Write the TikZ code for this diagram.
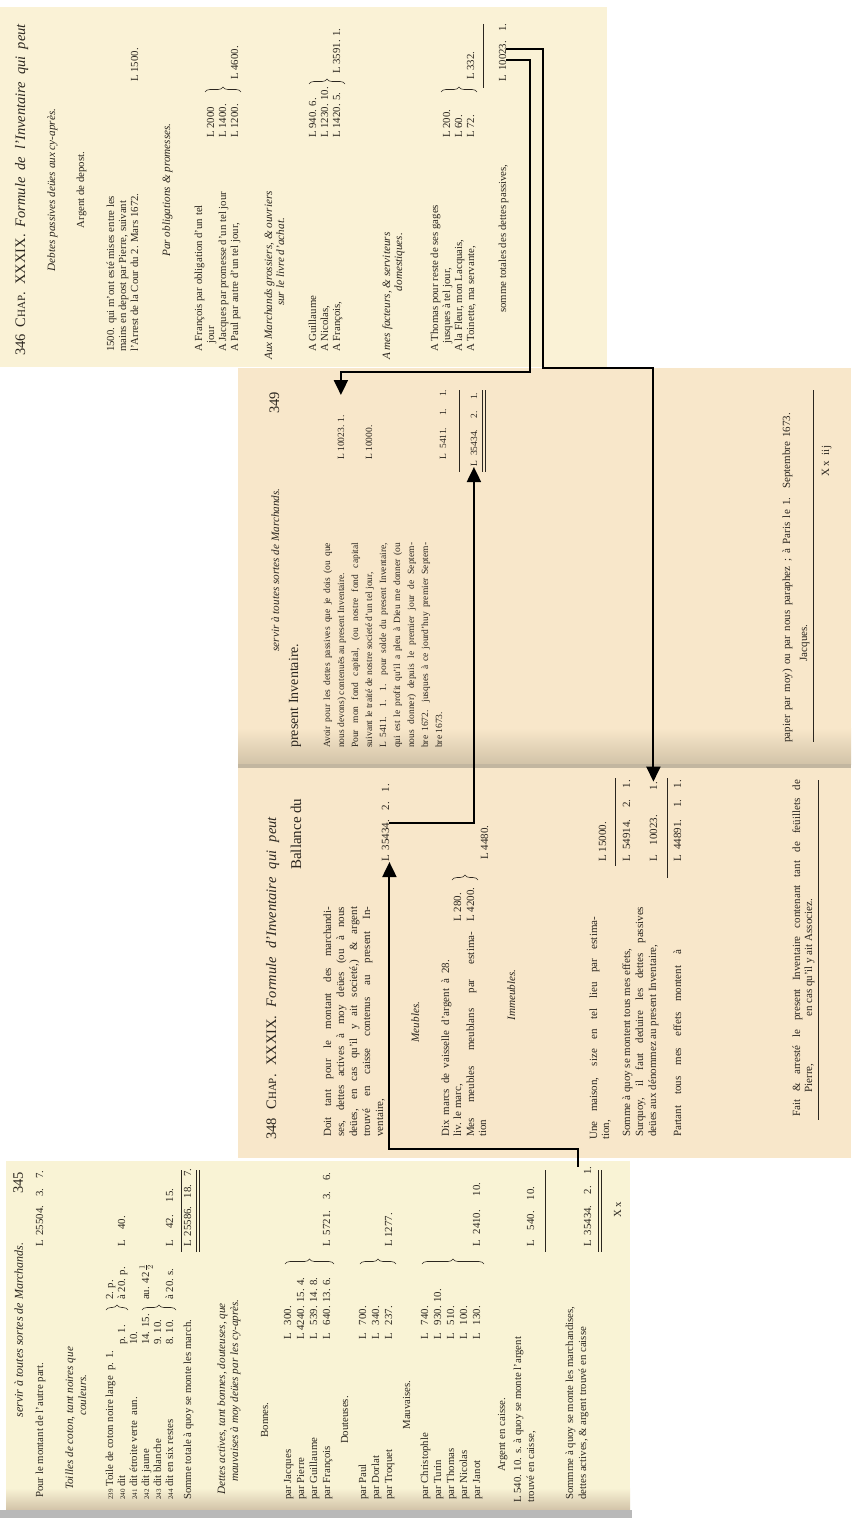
\documentclass[tikz,border=0pt]{standalone}
\usepackage{fontspec}
\setmainfont{Liberation Serif}
\usepackage{tikz}
\usetikzlibrary{positioning,arrows.meta,decorations.pathreplacing}

\definecolor{ink}{HTML}{2B261F}
\definecolor{paperTop}{HTML}{FAF2D6}
\definecolor{paperMid}{HTML}{F8E7CA}
\definecolor{paperLow}{HTML}{F9F3D5}
\definecolor{fold}{HTML}{D2C3A8}

\tikzset{
  txt/.style={rotate=90, inner sep=0pt, anchor=base west, text=ink,
    font=\fontsize{9.5}{10}\selectfont},
  txtR/.style={txt, anchor=base east},
  txtC/.style={txt, anchor=base},
  topf/.style={font=\fontsize{10.8}{11}\selectfont},
  midf/.style={font=\fontsize{11}{12}\selectfont},
  lowf/.style={font=\fontsize{10.8}{11}\selectfont},
  ital/.style={font=\fontsize{11.2}{12}\selectfont\itshape},
  headtxt/.style={font=\fontsize{14.5}{15}\selectfont},
  bigtxt/.style={font=\fontsize{14}{15}\selectfont},
  link/.style={draw=black, line width=2pt, -{Triangle[length=15pt,width=14pt]}},
  sumline/.style={draw=ink, line width=0.7pt},
  brc/.style={draw=ink, line width=0.6pt, decorate, decoration={brace, amplitude=5pt}},
}
\newcommand{\jl}[2]{\makebox[#1][s]{#2}}
\newcommand{\chap}{C{\fontsize{11}{12}\selectfont HAP}.}

\begin{document}
\begin{tikzpicture}[x=1pt, y=-1pt]
\useasboundingbox (0,0) rectangle (851,1533);

% Pages
\fill[white] (0,0) rectangle (851,1533);
\fill[paperTop] (0,7) rectangle (607,367);
\fill[paperMid] (238,368) rectangle (851,1158);
\shade[top color=paperMid, bottom color=fold] (238,728) rectangle (851,764);
\fill[fold!80!gray] (238,764) rectangle (851,768);
\fill[paperLow] (6,1161) rectangle (630,1510);
\shade[top color=paperLow, bottom color=fold] (6,1488) rectangle (630,1510);
\fill[gray!55] (0,1510) rectangle (632,1518);

% Page 346
\node[txt, headtxt] (Head346) at (25,356) {\jl{332pt}{346 \chap{} XXXIX. \textit{Formule de l'Inventaire qui peut}}};
\node[txtC, ital] (PassTitle) at (55,190) {Debtes passives deües aux cy-après.};
\node[txtC, topf] (DepTitle) at (84,190) {Argent de depost.};
\node[txt, topf] (Dep1) at (114,352) {1500. qui m'ont esté mises entre les};
\node[txt, topf] (Dep2) at (126,352) {mains en depost par Pierre, suivant};
\node[txt, topf] (Dep3) at (138,352) {l'Arrest de la Cour du 2. Mars 1672.};
\node[txt, topf] (DepSum) at (138,82) {L 1500.};
\node[txtC, ital] (OblTitle) at (170,190) {Par obligations \& promesses.};
\node[txt, topf] (Obl1) at (202,352) {A François par obligation d'un tel};
\node[txt, topf] (Obl2) at (214,352) {\hspace{8pt}jour};
\node[txt, topf] (Obl2a) at (214,138) {L 2000};
\node[txt, topf] (Obl3) at (226,352) {A Jacques par promesse d'un tel jour};
\node[txt, topf] (Obl3a) at (226,138) {L 1400.};
\node[txt, topf] (Obl4) at (238,352) {A Paul par autre d'un tel jour,};
\node[txt, topf] (Obl4a) at (238,138) {L 1200.};
\draw[brc] (205,92) -- (241,92);
\node[txt, topf] (OblSum) at (238,80) {L 4600.};
\node[txt, ital] (MarchTitle) at (272,360) {Aux Marchands grossiers, \& ouvriers};
\node[txtC, ital] (MarchTitle2) at (284,262) {sur le livre d'achat.};
\node[txt, topf] (March1) at (316,352) {A Guillaume};
\node[txt, topf] (March1a) at (316,138) {L 940. 6.};
\node[txt, topf] (March2) at (328,352) {A Nicolas,};
\node[txt, topf] (March2a) at (328,138) {L 1230. 10.};
\node[txt, topf] (March3) at (340,352) {A François,};
\node[txt, topf] (March3a) at (340,138) {L 1420. 5.};
\draw[brc] (309,84) -- (345,84);
\node[txt, topf] (MarchSum) at (340,74) {L 3591. 1.};
\node[txt, ital] (FactTitle) at (390,360) {A mes facteurs, \& serviteurs};
\node[txtC, ital] (FactTitle2) at (402,262) {domestiques.};
\node[txt, topf] (Fact1) at (438,352) {A Thomas pour reste de ses gages};
\node[txt, topf] (Fact2) at (450,352) {\hspace{8pt}jusques à tel jour,};
\node[txt, topf] (Fact2a) at (450,138) {L 200.};
\node[txt, topf] (Fact3) at (462,352) {A la Fleur, mon Lacquais,};
\node[txt, topf] (Fact3a) at (462,138) {L 60.};
\node[txt, topf] (Fact4) at (474,352) {A Toinette, ma servante,};
\node[txt, topf] (Fact4a) at (474,138) {L 72.};
\draw[brc] (441,92) -- (477,92);
\node[txt, topf] (FactSum) at (474,80) {L 332.};
\draw[sumline] (483,24) -- (483,88);
\node[txt, topf] (TotLabel) at (506,313) {somme totales des dettes passives,};
\node[txt, topf] (TotPassives) at (506,82) {\jl{58pt}{L 10023. 1.}};

% Page 349
\node[txtC, ital] (Head349) at (279,570) {servir à toutes sortes de Marchands.};
\node[txtR, headtxt] (Folio349) at (279,392) {349};
\node[txt, bigtxt] (Title349) at (298,748) {present Inventaire.};
\node[txt] (Av1) at (330,748) {\jl{205pt}{Avoir pour les dettes passives que je dois (ou que}};
\node[txt] (Av2) at (344,748) {nous devons) contenuës au present Inventaire.};
\node[txt] (Debt349) at (344,460) {L 10023. 1.};
\node[txt] (Av3) at (358,748) {\jl{205pt}{Pour mon fond capital, (ou nostre fond capital}};
\node[txt] (Av4) at (372,748) {suivant le traité de nostre societé d'un tel jour,};
\node[txt] (Capital) at (372,460) {L 10000.};
\node[txt] (Av5) at (386,748) {\jl{205pt}{L 5411. 1. 1. pour solde du present Inventaire,}};
\node[txt] (Av6) at (400,748) {\jl{205pt}{qui est le profit qu'il a pleu à Dieu me donner (ou}};
\node[txt] (Av7) at (414,748) {\jl{205pt}{nous donner) depuis le premier jour de Septem-}};
\node[txt] (Av8) at (428,748) {\jl{205pt}{bre 1672. jusques à ce jourd'huy premier Septem-}};
\node[txt] (Av9) at (442,748) {bre 1673.};
\node[txt] (Profit) at (446,460) {\jl{70pt}{L 5411. 1. 1.}};
\draw[sumline] (459,390) -- (459,472);
\node[txt] (Bal349) at (477,467) {\jl{74pt}{L 35434. 2. 1.}};
\draw[sumline] (482,390) -- (482,472);
\draw[sumline] (485,390) -- (485,472);
\node[txt, midf] (Sign349) at (790,743) {\jl{330pt}{papier par moy) ou par nous paraphez ; à Paris le 1. Septembre 1673.}};
\node[txtC, midf] (Jacques) at (807,643) {Jacques.};
\draw[sumline] (813,390) -- (813,742);
\node[txt, midf] (Mark349) at (829,477) {X x \ iij};

% Page 348
\node[txt, headtxt] (Head348) at (276,1140) {\jl{323pt}{348 \chap{} XXXIX. \textit{Formule d'Inventaire qui peut}}};
\node[txt, font=\fontsize{15}{16}\selectfont] (Title348) at (301,870) {Ballance du};
\node[txt, midf] (Doit1) at (331,1137) {\jl{230pt}{Doit tant pour le montant des marchandi-}};
\node[txt, midf] (Doit2) at (344,1137) {\jl{230pt}{ses, dettes actives à moy deües (ou à nous}};
\node[txt, midf] (Doit3) at (357,1137) {\jl{230pt}{deües, en cas qu'il y ait societé,) \& argent}};
\node[txt, midf] (Doit4) at (370,1137) {\jl{230pt}{trouvé en caisse contenus au present In-}};
\node[txt, midf] (Doit5) at (383,1137) {ventaire,};
\node[txt, midf] (Bal348) at (389,862) {\jl{78pt}{L 35434. 2. 1.}};
\node[txtC, ital] (Meubles) at (419,1022) {Meubles.};
\node[txt, midf] (Meub1) at (449,1137) {\jl{177pt}{Dix marcs de vaisselle d'argent à 28.}};
\node[txt, midf] (Meub2) at (461,1137) {liv. le marc,};
\node[txt, midf] (Meub2a) at (461,922) {L 280.};
\node[txt, midf] (Meub3) at (474,1137) {\jl{205pt}{Mes meubles meublans par estima-}};
\node[txt, midf] (Meub3a) at (474,922) {L 4200.};
\node[txt, midf] (Meub4) at (486,1137) {tion};
\draw[brc] (452,880) -- (478,880);
\node[txt, midf] (MeubSum) at (488,860) {L 4480.};
\node[txtC, ital] (Immeubles) at (515,995) {Immeubles.};
\node[txt, midf] (Mais1) at (597,1140) {\jl{223pt}{Une maison, size en tel lieu par estima-}};
\node[txt, midf] (Mais2) at (609,1140) {tion,};
\node[txt, midf] (MaisSum) at (606,862) {L 15000.};
\draw[sumline] (615,778) -- (615,866);
\node[txt, midf] (Som1) at (630,1137) {Somme à quoy se montent tous mes effets,};
\node[txt, midf] (Effets) at (630,862) {\jl{82pt}{L 54914. 2. 1.}};
\node[txt, midf] (Som2) at (643,1137) {\jl{230pt}{Surquoy, il faut deduire les dettes passives}};
\node[txt, midf] (Som3) at (656,1137) {deües aux dénommez au present Inventaire,};
\node[txt, midf] (Debt348) at (657,862) {\jl{80pt}{L 10023. 1.}};
\draw[sumline] (667,778) -- (667,878);
\node[txt, midf] (Part1) at (681,1137) {\jl{187pt}{Partant tous mes effets montent à}};
\node[txt, midf] (Net348) at (681,862) {\jl{82pt}{L 44891. 1. 1.}};
\node[txt, midf] (Fait1) at (800,1117) {\jl{337pt}{Fait \& arresté le present Inventaire contenant tant de feüillets de}};
\node[txtC, midf] (Pierre) at (812,1078) {Pierre,};
\node[txt, midf] (Fait2) at (812,1017) {en cas qu'il y ait Associez.};
\draw[sumline] (818,780) -- (818,1120);

% Page 345
\node[txtC, ital, font=\fontsize{12}{13}\selectfont\itshape] (Head345) at (23,1330) {servir à toutes sortes de Marchands.};
\node[txtR, headtxt] (Folio345) at (23,1172) {345};
\node[txt, lowf] (Report) at (43,1498) {Pour le montant de l'autre part.};
\node[txt, lowf] (ReportSum) at (43,1247) {\jl{76pt}{L 25504. 3. 7.}};
\node[txt, ital] (ToilTitle) at (73,1490) {Toilles de coton, tant noires que};
\node[txtC, ital] (ToilTitle2) at (86,1395) {couleurs.};
\node[txt, lowf] (Toil1) at (113,1500) {{\scriptsize 239} Toile de coton noire large\ \ p. 1.};
\node[txt, lowf] (Toil1b) at (113,1300) {2. p.};
\node[txt, lowf] (Toil2) at (125,1500) {{\scriptsize 240} dit};
\node[txt, lowf] (Toil2a) at (125,1345) {p. 1.};
\node[txt, lowf] (Toil2b) at (125,1300) {à 20. p.};
\node[txt, lowf] (Toil2c) at (125,1247) {L \ \ \ 40.};
\node[txt, lowf] (Toil3) at (137,1500) {{\scriptsize 241} dit étroite verte\ \ aun.};
\node[txt, lowf] (Toil3a) at (137,1345) {10.};
\node[txt, lowf] (Toil4) at (149,1500) {{\scriptsize 242} dit jaune};
\node[txt, lowf] (Toil4a) at (149,1345) {14. 15.};
\node[txt, lowf] (Toil4b) at (149,1300) {au. 42\,$\frac{1}{2}$};
\node[txt, lowf] (Toil5) at (161,1500) {{\scriptsize 243} dit blanche};
\node[txt, lowf] (Toil5a) at (161,1345) {9. 10.};
\node[txt, lowf] (Toil6) at (173,1500) {{\scriptsize 244} dit en six restes};
\node[txt, lowf] (Toil6a) at (173,1345) {8. 10.};
\node[txt, lowf] (Toil6b) at (173,1300) {à 20. s.};
\node[txt, lowf] (Toil6c) at (173,1247) {\jl{58pt}{L \ 42. 15.}};
\draw[brc] (106,1310) -- (128,1310);
\draw[brc] (142,1310) -- (176,1310);
\draw[sumline] (181,1170) -- (181,1252);
\node[txt, lowf] (MarchTot) at (191,1500) {Somme totale à quoy se monte les march.};
\node[txt, lowf] (MarchTotSum) at (191,1247) {\jl{78pt}{L 25586. 18. 7.}};
\draw[sumline] (196,1170) -- (196,1252);
\draw[sumline] (199,1170) -- (199,1252);
\node[txt, ital] (ActTitle) at (225,1495) {Dettes actives, tant bonnes, douteuses, que};
\node[txt, ital] (ActTitle2) at (238,1482) {mauvaises à moy deües par les cy-après.};
\node[txtC, lowf] (Bonnes) at (268,1420) {Bonnes.};
\node[txt, lowf] (Bon1) at (291,1500) {par Jacques};
\node[txt, lowf] (Bon1a) at (291,1340) {L \ \ 300.};
\node[txt, lowf] (Bon2) at (304,1500) {par Pierre};
\node[txt, lowf] (Bon2a) at (304,1340) {L 4240. 15. 4.};
\node[txt, lowf] (Bon3) at (317,1500) {par Guillaume};
\node[txt, lowf] (Bon3a) at (317,1340) {L \ \ 539. 14. 8.};
\node[txt, lowf] (Bon4) at (330,1500) {par François};
\node[txt, lowf] (Bon4a) at (330,1340) {L \ \ 640. 13. 6.};
\draw[brc] (285,1264) -- (334,1264);
\node[txt, lowf] (BonSum) at (330,1247) {\jl{74pt}{L 5721. 3. 6.}};
\node[txtC, lowf] (Douteuses) at (348,1420) {Douteuses.};
\node[txt, lowf] (Dou1) at (366,1500) {par Paul};
\node[txt, lowf] (Dou1a) at (366,1340) {L \ \ 700.};
\node[txt, lowf] (Dou2) at (379,1500) {par Dorlat};
\node[txt, lowf] (Dou2a) at (379,1340) {L \ \ 340.};
\node[txt, lowf] (Dou3) at (392,1500) {par Troquet};
\node[txt, lowf] (Dou3a) at (392,1340) {L \ \ 237.};
\draw[brc] (360,1264) -- (396,1264);
\node[txt, lowf] (DouSum) at (392,1247) {L 1277.};
\node[txtC, lowf] (Mauvaises) at (410,1405) {Mauvaises.};
\node[txt, lowf] (Mau1) at (428,1500) {par Christophle};
\node[txt, lowf] (Mau1a) at (428,1340) {L \ \ 740.};
\node[txt, lowf] (Mau2) at (441,1500) {par Turin};
\node[txt, lowf] (Mau2a) at (441,1340) {L \ \ 930. 10.};
\node[txt, lowf] (Mau3) at (454,1500) {par Thomas};
\node[txt, lowf] (Mau3a) at (454,1340) {L \ \ 510.};
\node[txt, lowf] (Mau4) at (467,1500) {par Nicolas};
\node[txt, lowf] (Mau4a) at (467,1340) {L \ \ 100.};
\node[txt, lowf] (Mau5) at (480,1500) {par Janot};
\node[txt, lowf] (Mau5a) at (480,1340) {L \ \ 130.};
\draw[brc] (422,1264) -- (484,1264);
\node[txt, lowf] (MauSum) at (480,1247) {\jl{64pt}{L 2410. 10.}};
\node[txtC, lowf] (Caisse) at (505,1435) {Argent en caisse.};
\node[txt, lowf] (Caisse1) at (521,1503) {L 540. 10. s. à quoy se monte l'argent};
\node[txt, lowf] (Caisse2) at (534,1503) {trouvé en caisse,};
\node[txt, lowf] (CaisseSum) at (534,1247) {\jl{60pt}{L \ 540. 10.}};
\draw[sumline] (545,1170) -- (545,1252);
\node[txt, lowf] (Fin1) at (573,1500) {Sommme à quoy se monte les marchandises,};
\node[txt, lowf] (Fin2) at (586,1500) {dettes actives, \& argent trouvé en caisse};
\node[txt, lowf] (Bal345) at (591,1247) {\jl{80pt}{L 35434. 2. 1.}};
\draw[sumline] (598,1170) -- (598,1252);
\draw[sumline] (601,1170) -- (601,1252);
\node[txtC, lowf] (Mark345) at (621,1210) {X x};

% Links between the pages
\draw[link] ([yshift=4pt]TotPassives.south) -| (543,368) -| (Debt348.east);
\draw[link] ([yshift=-7pt]TotPassives.south) -| (530,372) -| ([yshift=20pt]Debt349.east);
\draw[link] (Bal348.south) -| (Bal349.west);
\draw[link] ([xshift=-10pt]Bal345.east) -- ++(0,-18) -| ([xshift=4pt]Bal348.west);

\end{tikzpicture}
\end{document}
